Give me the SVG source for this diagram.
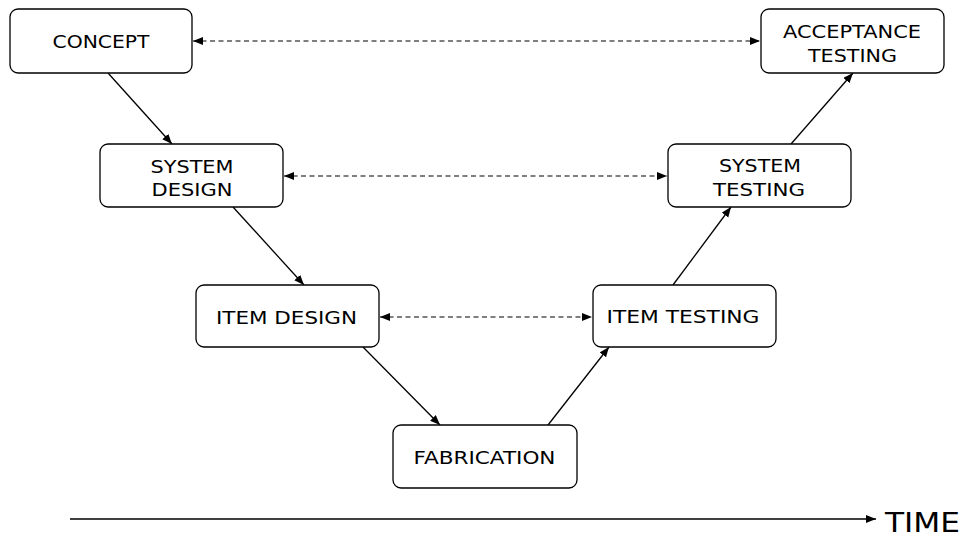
<svg xmlns="http://www.w3.org/2000/svg" width="967" height="538" viewBox="0 0 967 538">
  <style>
    .box { fill: #ffffff; stroke: #000000; stroke-width: 1.3; }
    .lbl { font-family: "DejaVu Sans", Verdana, sans-serif; font-size: 18px; fill: #000000; text-anchor: middle; }
    .flow { stroke: #000000; stroke-width: 1.3; fill: none; marker-end: url(#head); }
    .link { stroke: #000000; stroke-width: 1.2; fill: none; stroke-dasharray: 5 3.5; marker-start: url(#head); marker-end: url(#head); }
    .time { font-family: "DejaVu Sans", Verdana, sans-serif; font-size: 27px; fill: #000000; }
  </style>
  <defs>
    <marker id="head" markerUnits="userSpaceOnUse" markerWidth="12" markerHeight="10" refX="10" refY="4" orient="auto-start-reverse">
      <path d="M0,0 L10,4 L0,8 Z" fill="#000000"/>
    </marker>
  </defs>
  <rect width="967" height="538" fill="#ffffff"/>

  <g id="connectors">
    <!-- descending side -->
    <line class="flow" x1="108" y1="73" x2="172" y2="144"/>
    <line class="flow" x1="233" y1="207" x2="304" y2="285"/>
    <line class="flow" x1="363" y1="347" x2="440" y2="425"/>
    <!-- ascending side -->
    <line class="flow" x1="548" y1="425" x2="609" y2="347"/>
    <line class="flow" x1="673" y1="285" x2="731" y2="207"/>
    <line class="flow" x1="791" y1="144" x2="853" y2="73"/>
    <!-- verification links -->
    <line class="link" x1="193" y1="41" x2="760" y2="41"/>
    <line class="link" x1="284" y1="176" x2="667" y2="176"/>
    <line class="link" x1="380" y1="317" x2="592" y2="317"/>
    <!-- time axis -->
    <line class="flow" x1="70" y1="519" x2="876" y2="519"/>
  </g>

  <g id="concept">
    <rect class="box" x="10" y="9" width="182" height="64" rx="8"/>
    <text class="lbl" x="101" y="48" textLength="97" lengthAdjust="spacingAndGlyphs">CONCEPT</text>
  </g>
  <g id="system-design">
    <rect class="box" x="100" y="144" width="183" height="63" rx="8"/>
    <text class="lbl" x="192" y="173" textLength="83" lengthAdjust="spacingAndGlyphs">SYSTEM</text>
    <text class="lbl" x="192" y="196" textLength="81" lengthAdjust="spacingAndGlyphs">DESIGN</text>
  </g>
  <g id="item-design">
    <rect class="box" x="196" y="285" width="183" height="62" rx="8"/>
    <text class="lbl" x="286.5" y="324" textLength="141" lengthAdjust="spacingAndGlyphs">ITEM DESIGN</text>
  </g>
  <g id="fabrication">
    <rect class="box" x="393" y="425" width="184" height="63" rx="8"/>
    <text class="lbl" x="484.5" y="464" textLength="142" lengthAdjust="spacingAndGlyphs">FABRICATION</text>
  </g>
  <g id="item-testing">
    <rect class="box" x="593" y="285" width="183" height="62" rx="8"/>
    <text class="lbl" x="683" y="323" textLength="153" lengthAdjust="spacingAndGlyphs">ITEM TESTING</text>
  </g>
  <g id="system-testing">
    <rect class="box" x="668" y="144" width="183" height="63" rx="8"/>
    <text class="lbl" x="760" y="172" textLength="82" lengthAdjust="spacingAndGlyphs">SYSTEM</text>
    <text class="lbl" x="759" y="196" textLength="92" lengthAdjust="spacingAndGlyphs">TESTING</text>
  </g>
  <g id="acceptance-testing">
    <rect class="box" x="761" y="9" width="183" height="64" rx="8"/>
    <text class="lbl" x="852" y="38" textLength="138" lengthAdjust="spacingAndGlyphs">ACCEPTANCE</text>
    <text class="lbl" x="852.5" y="62" textLength="89" lengthAdjust="spacingAndGlyphs">TESTING</text>
  </g>

  <g id="time-label">
    <text class="time" x="885" y="532" textLength="75" lengthAdjust="spacingAndGlyphs">TIME</text>
  </g>
</svg>
